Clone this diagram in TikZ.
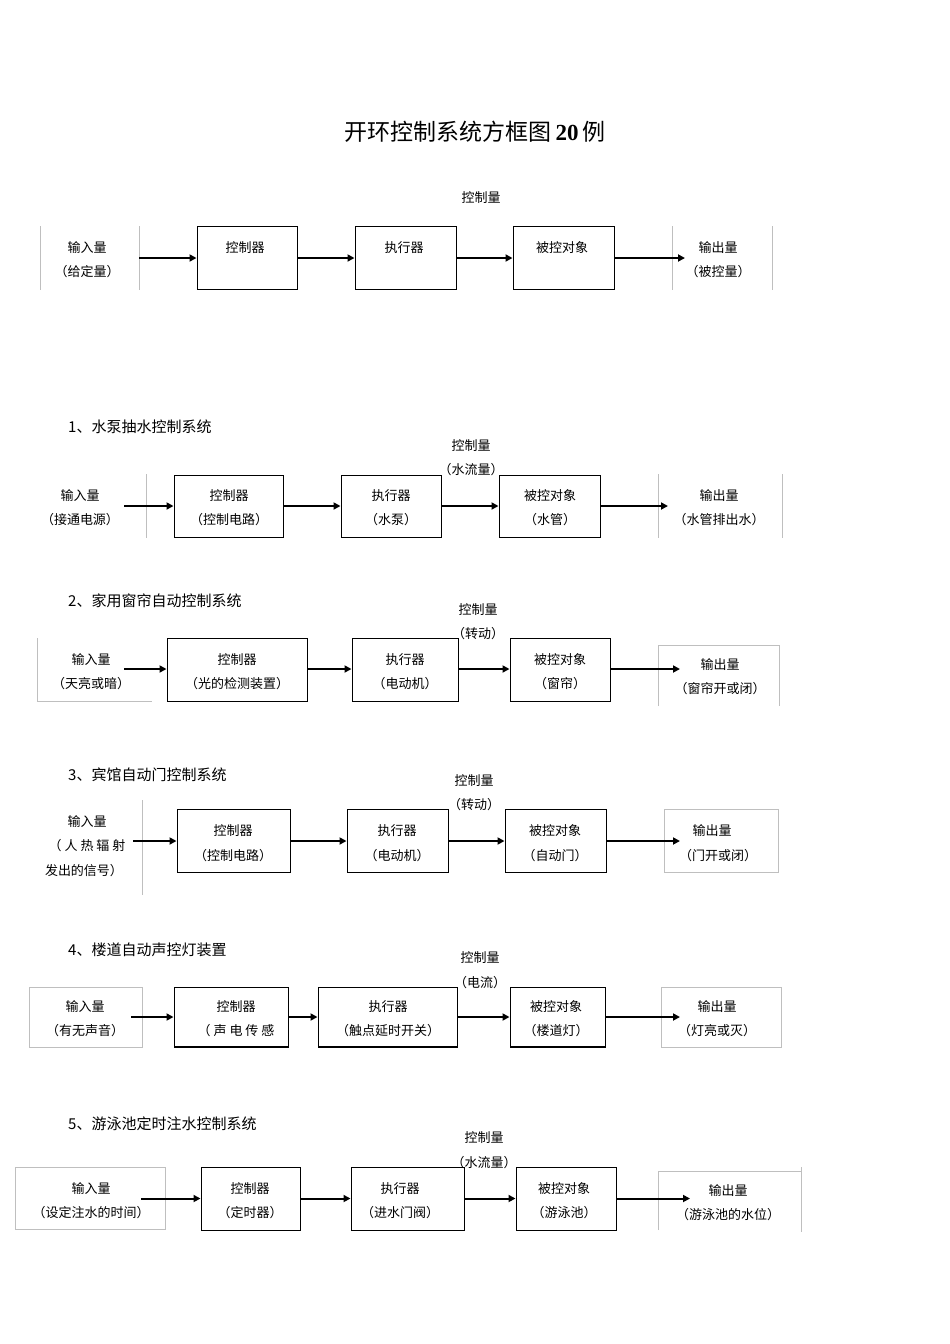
\documentclass[tikz,border=0pt]{standalone}
\usepackage{fontspec}
\setmainfont{Liberation Serif}
\newfontfamily\cjk{Noto Sans CJK SC}
\usetikzlibrary{arrows.meta}
\tikzset{
  box/.style={draw, line width=1pt, inner sep=0pt},
  faint/.style={draw=black!25, line width=0.6pt},
  arr/.style={line width=2pt, -{Triangle[length=7pt,width=7pt]}},
  t/.style={font=\cjk\fontsize{13}{15}\selectfont, inner sep=0pt},
  h/.style={font=\cjk\fontsize{15}{18}\selectfont, anchor=west, inner sep=0pt},
}
\newcommand{\blk}[5]{\node[box, minimum width={(#4-#2)*1pt}, minimum height={(#5-#3)*1pt}] (#1) at ({(#2+#4)/2},{-(#3+#5)/2}) {};}
\newcommand{\tx}[3]{\node[t] at (#1,-#2) {#3};}
\newcommand{\chain}[5]{%
  \draw[arr] (#1) -- (#1 -| #2.west);
  \draw[arr] (#2.east |- #1) -- (#1 -| #3.west);
  \draw[arr] (#3.east |- #1) -- (#1 -| #4.west);
  \draw[arr] (#4.east |- #1) -- (#5);}
\begin{document}
\begin{tikzpicture}[x=1pt,y=1pt]
\useasboundingbox (0,0) rectangle (950,-1344);
% title
\node[inner sep=0pt] (title) at (475,-132) {\cjk\fontsize{23}{26}\selectfont 开环控制系统方框图\,\textbf{\fontspec{Liberation Serif}20}\,例};
% ---- row 0
\draw[faint] (40,-226) -- (40,-290) (139,-226) -- (139,-290) (672,-226) -- (672,-290) (772,-226) -- (772,-290);
\blk{a0}{197}{226}{297}{289}\blk{b0}{355}{226}{456}{289}\blk{c0}{513}{226}{614}{289}
\coordinate (i0) at (139,-258); \coordinate (o0) at (685,-258);
\chain{i0}{a0}{b0}{c0}{o0}
\tx{481}{198}{控制量}
\tx{87}{248}{输入量}\tx{87}{272}{（给定量）}
\tx{245}{248}{控制器}\tx{404}{248}{执行器}\tx{562}{248}{被控对象}
\tx{718}{248}{输出量}\tx{718}{272}{（被控量）}
% ---- row 1
\node[h] at (68,-427) {1、水泵抽水控制系统};
\draw[faint] (146,-474) -- (146,-538) (658,-474) -- (658,-538) (782,-474) -- (782,-538);
\blk{a1}{174}{475}{283}{537}\blk{b1}{341}{475}{441}{537}\blk{c1}{499}{475}{600}{537}
\coordinate (i1) at (124,-506); \coordinate (o1) at (668,-506);
\chain{i1}{a1}{b1}{c1}{o1}
\tx{471}{446}{控制量}\tx{471}{470}{（水流量）}
\tx{80}{496}{输入量}\tx{80}{520}{（接通电源）}
\tx{229}{496}{控制器}\tx{229}{520}{（控制电路）}
\tx{391}{496}{执行器}\tx{391}{520}{（水泵）}
\tx{550}{496}{被控对象}\tx{550}{520}{（水管）}
\tx{719}{496}{输出量}\tx{719}{520}{（水管排出水）}
% ---- row 2
\node[h] at (68,-601) {2、家用窗帘自动控制系统};
\draw[faint] (37,-638) -- (37,-701) -- (152,-701);
\draw[faint] (658,-706) -- (658,-645) -- (779,-645) -- (779,-706);
\blk{a2}{167}{638}{307}{701}\blk{b2}{352}{638}{458}{701}\blk{c2}{510}{638}{610}{701}
\coordinate (i2) at (124,-669); \coordinate (o2) at (680,-669);
\chain{i2}{a2}{b2}{c2}{o2}
\tx{478}{610}{控制量}\tx{478}{634}{（转动）}
\tx{91}{660}{输入量}\tx{91}{684}{（天亮或暗）}
\tx{237}{660}{控制器}\tx{237}{684}{（光的检测装置）}
\tx{405}{660}{执行器}\tx{405}{684}{（电动机）}
\tx{560}{660}{被控对象}\tx{560}{684}{（窗帘）}
\tx{720}{665}{输出量}\tx{720}{689}{（窗帘开或闭）}
% ---- row 3
\node[h] at (68,-775) {3、宾馆自动门控制系统};
\draw[faint] (142,-800) -- (142,-895);
\draw[faint] (664,-809) rectangle (778,-872);
\blk{a3}{177}{809}{290}{872}\blk{b3}{347}{809}{448}{872}\blk{c3}{505}{809}{606}{872}
\coordinate (i3) at (133,-841); \coordinate (o3) at (680,-841);
\chain{i3}{a3}{b3}{c3}{o3}
\tx{474}{781}{控制量}\tx{474}{805}{（转动）}
\tx{87}{822}{输入量}\tx{87}{846}{（ 人 热 辐 射}\tx{84}{871}{发出的信号）}
\tx{233}{831}{控制器}\tx{233}{856}{（控制电路）}
\tx{397}{831}{执行器}\tx{397}{856}{（电动机）}
\tx{555}{831}{被控对象}\tx{555}{856}{（自动门）}
\tx{712}{831}{输出量}\tx{718}{856}{（门开或闭）}
% ---- row 4
\node[h] at (68,-950) {4、楼道自动声控灯装置};
\draw[faint] (29,-987) rectangle (142,-1047);
\draw[faint] (661,-987) rectangle (781,-1047);
\blk{a4}{174}{987}{288}{1047}\blk{b4}{318}{987}{457}{1047}\blk{c4}{510}{987}{605}{1047}
\draw[line width=2pt] (174,-1047) -- (288,-1047) (318,-1047) -- (457,-1047) (510,-1047) -- (605,-1047);
\coordinate (i4) at (131,-1017); \coordinate (o4) at (680,-1017);
\chain{i4}{a4}{b4}{c4}{o4}
\tx{480}{958}{控制量}\tx{480}{983}{（电流）}
\tx{85}{1007}{输入量}\tx{85}{1031}{（有无声音）}
\tx{236}{1007}{控制器}\tx{236}{1031}{（ 声 电 传 感}
\tx{388}{1007}{执行器}\tx{388}{1031}{（触点延时开关）}
\tx{556}{1007}{被控对象}\tx{556}{1031}{（楼道灯）}
\tx{717}{1007}{输出量}\tx{717}{1031}{（灯亮或灭）}
% ---- row 5
\node[h] at (68,-1124) {5、游泳池定时注水控制系统};
\draw[faint] (15,-1167) rectangle (165,-1229);
\draw[faint] (658,-1230) -- (658,-1171) -- (801,-1171) (801,-1167) -- (801,-1232);
\blk{a5}{201}{1167}{300}{1230}\blk{b5}{351}{1167}{464}{1230}\blk{c5}{516}{1167}{616}{1230}
\coordinate (i5) at (141,-1198.5); \coordinate (o5) at (690,-1198.5);
\chain{i5}{a5}{b5}{c5}{o5}
\tx{484}{1138}{控制量}\tx{484}{1163}{（水流量）}
\tx{91}{1189}{输入量}\tx{91}{1213}{（设定注水的时间）}
\tx{250}{1189}{控制器}\tx{250}{1213}{（定时器）}
\tx{400}{1189}{执行器}\tx{400}{1213}{（进水门阀）}
\tx{564}{1189}{被控对象}\tx{564}{1213}{（游泳池）}
\tx{728}{1191}{输出量}\tx{728}{1215}{（游泳池的水位）}
\end{tikzpicture}
\end{document}
